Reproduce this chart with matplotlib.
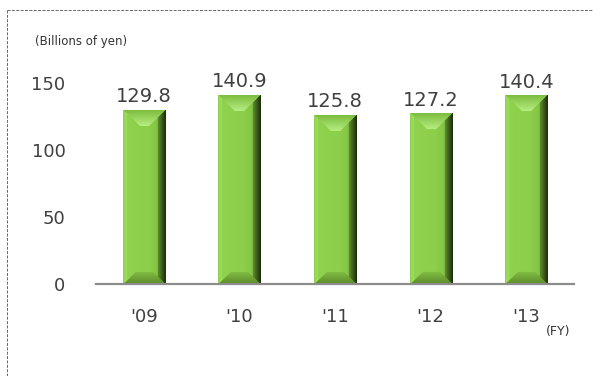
import numpy as np
import matplotlib
matplotlib.use("Agg")
import matplotlib.pyplot as plt
from matplotlib.lines import Line2D

categories = ["'09", "'10", "'11", "'12", "'13"]
values = [129.8, 140.9, 125.8, 127.2, 140.4]
yticks = [0, 50, 100, 150]

W, H = 593, 376
fig = plt.figure(figsize=(W / 100, H / 100), dpi=100)
ax = fig.add_axes([96 / W, 1 - 284 / H, (574 - 96) / W, (284 - 83) / H])
x = np.arange(len(categories))
bars = ax.bar(x, values, width=0.44, color="#8cd04a", zorder=2)
ax.set_xlim(-0.5, len(categories) - 0.5)
ax.set_ylim(0, 150)
ax.set_yticks(yticks)
ax.set_yticklabels([str(t) for t in yticks])
ax.set_xticks(x)
ax.set_xticklabels(categories)
ax.tick_params(axis="y", length=0, pad=22, labelsize=13, labelcolor="#404040")
ax.tick_params(axis="x", length=0, pad=17, labelsize=13, labelcolor="#404040")
for s in ["top", "right", "left"]:
    ax.spines[s].set_visible(False)
ax.spines["bottom"].set_color("#8c8c8c")
ax.spines["bottom"].set_linewidth(1.6)
ax.spines["bottom"].set_zorder(3)


def hex2rgb(h):
    h = h.lstrip("#")
    return np.array([int(h[i:i + 2], 16) / 255 for i in (0, 2, 4)])


def mix(c0, c1, f):
    return hex2rgb(c0) * (1 - f) + hex2rgb(c1) * f


def bevel_image(wpx, hpx, bl=4.0, br=8.0, bt=16.0, bb=12.0):
    wpx = max(int(round(wpx)), 2)
    hpx = max(int(round(hpx)), 2)
    u = (np.arange(wpx) + 0.5)[None, :] * np.ones((hpx, 1))
    v = (np.arange(hpx) + 0.5)[:, None] * np.ones((1, wpx))
    dl, dr, dt, db = u, wpx - u, v, hpx - v
    t = (u / wpx)[..., None]
    img = np.where(t < 0.6, mix("#8fd24e", "#8ccf4a", t / 0.6),
                   mix("#8ccf4a", "#7cb840", (t - 0.6) / 0.4))
    side = np.minimum(dl, dr)
    # left
    sel = dl < bl
    f = np.clip(dl / bl, 0, 1)[..., None]
    img = np.where(sel[..., None], mix("#92d052", "#a0de62", f), img)
    # right
    sel = dr < br
    f = np.clip(dr / br, 0, 1)[..., None]
    img = np.where(sel[..., None], mix("#1a2a0a", "#5e902e", f), img)
    # top chamfer
    sel = (dt < bt) & (dt < side)
    f = np.clip(dt / bt, 0, 1)[..., None]
    img = np.where(sel[..., None], mix("#7cbc3e", "#b6ee80", f), img)
    # bottom chamfer
    sel = (db < bb) & (db < side)
    f = np.clip(db / bb, 0, 1)[..., None]
    img = np.where(sel[..., None], mix("#5c8c2c", "#80bc42", f), img)
    return img


fig.canvas.draw()
for rect in bars:
    x0, y0 = rect.get_x(), rect.get_y()
    w, h = rect.get_width(), rect.get_height()
    p0 = ax.transData.transform((x0, y0))
    p1 = ax.transData.transform((x0 + w, y0 + h))
    img = bevel_image(abs(p1[0] - p0[0]), abs(p1[1] - p0[1]))
    rect.set_visible(False)
    ax.imshow(img, extent=(x0, x0 + w, y0, y0 + h), aspect="auto",
              interpolation="bilinear", zorder=2, origin="upper")
    ax.text(x0 + w / 2, y0 + h + 3, f"{h:.1f}", ha="center", va="bottom",
            fontsize=14, color="#404040", clip_on=False)
ax.set_xlim(-0.5, len(categories) - 0.5)
ax.set_ylim(0, 150)

fig.text(35 / W, 1 - 41 / H, "(Billions of yen)", fontsize=8.5,
         color="#333333", ha="left", va="center")
fig.text(558 / W, 1 - 331 / H, "(FY)", fontsize=9,
         color="#333333", ha="center", va="center")

fig.add_artist(Line2D([7 / W, 1.0], [1 - 10 / H, 1 - 10 / H], transform=fig.transFigure,
                      color="#666666", lw=0.7, ls=(0, (3, 1.5))))
fig.add_artist(Line2D([7 / W, 7 / W], [1 - 10 / H, 0.0], transform=fig.transFigure,
                      color="#666666", lw=0.7, ls=(0, (3, 1.5))))

fig.savefig("out.png", dpi=100)
